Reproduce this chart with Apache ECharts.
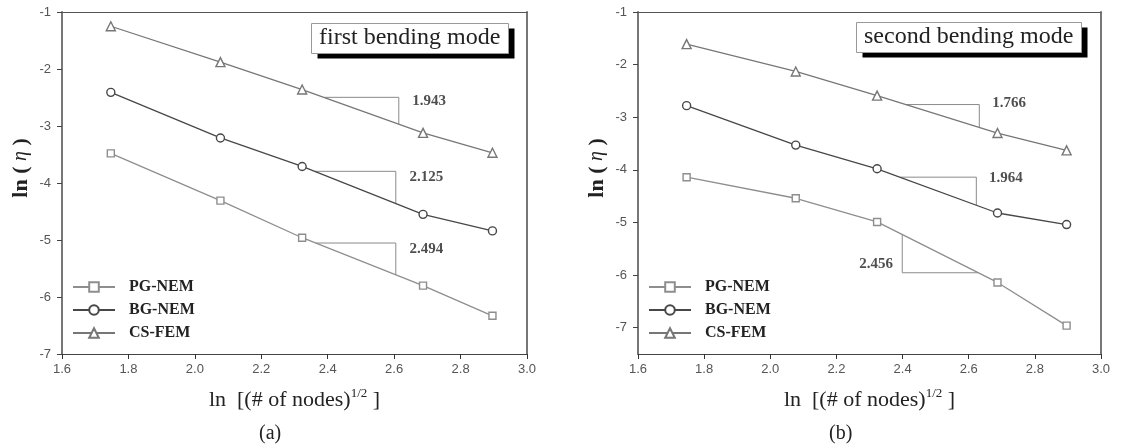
<!DOCTYPE html>
<html>
<head>
<meta charset="utf-8">
<script src="https://cdn.jsdelivr.net/npm/echarts@6/dist/echarts.min.js"></script>
<style>
html,body{margin:0;padding:0;background:#fff;}
#c{width:1121px;height:446px;}
</style>
</head>
<body>
<div id="c"></div>
<script>
// ---- data ----
var seriesNames = ['PG-NEM', 'BG-NEM', 'CS-FEM'];
var xNodes = [1.747, 2.077, 2.323, 2.687, 2.896];
var xTicks = [1.6, 1.8, 2.0, 2.2, 2.4, 2.6, 2.8, 3.0];
var yTicksA = [-7, -6, -5, -4, -3, -2, -1];
var yTicksB = [-7, -6, -5, -4, -3, -2, -1];

// panel (a): first bending mode
var pgA = [-3.48, -4.31, -4.96, -5.80, -6.33];
var bgA = [-2.41, -3.21, -3.71, -4.55, -4.84];
var csA = [-1.25, -1.88, -2.36, -3.12, -3.47];
// panel (b): second bending mode
var pgB = [-4.14, -4.54, -4.99, -6.14, -6.96];
var bgB = [-2.78, -3.53, -3.98, -4.82, -5.04];
var csB = [-1.61, -2.13, -2.59, -3.30, -3.63];

// slope triangles
var slopeTriA = [
  [[2.391, -2.497], [2.614, -2.497], [2.614, -2.967]],
  [[2.361, -3.795], [2.605, -3.795], [2.605, -4.36]],
  [[2.364, -5.053], [2.605, -5.053], [2.605, -5.61]]
];
var slopeTriB = [
  [[2.41, -2.759], [2.632, -2.759], [2.632, -3.19]],
  [[2.393, -4.139], [2.623, -4.139], [2.623, -4.67]],
  [[2.399, -5.228], [2.399, -5.956], [2.629, -5.956]]
];
// slope labels [x, y, text]
var slopeLabelA = [[2.705, -2.568, '1.943'], [2.697, -3.895, '2.125'], [2.697, -5.158, '2.494']];
var slopeLabelB = [[2.722, -2.728, '1.766'], [2.712, -4.152, '1.964'], [2.32, -5.80, '2.456']];

var titleA = 'first bending mode';
var titleB = 'second bending mode';

// ---- chart ----
var chart = echarts.init(document.getElementById('c'), null, {renderer: 'canvas'});
var serif = '"Liberation Serif", "DejaVu Serif", serif';
var sans = '"Liberation Sans", Arial, sans-serif';

var styles = [
  {color: '#8e8e8e', symbol: 'rect', size: 7},
  {color: '#474747', symbol: 'circle', size: 8},
  {color: '#777777', symbol: 'triangle', size: 9}
];

function xAx(gi) {
  return {
    type: 'value', gridIndex: gi, min: 1.6, max: 3.0, interval: 0.2,
    name: '{n|ln  [(# of nodes)}{s|1/2}{n| ]}',
    nameLocation: 'middle', nameGap: 33,
    nameTextStyle: {
      rich: {
        n: {fontFamily: serif, fontSize: 22, color: '#222', lineHeight: 26},
        s: {fontFamily: serif, fontSize: 13, color: '#222', verticalAlign: 'top', lineHeight: 14}
      }
    },
    axisLine: {show: true, onZero: false, lineStyle: {color: '#444', width: 1}},
    axisTick: {show: true, inside: false, length: 5, lineStyle: {color: '#333'}},
    axisLabel: {color: '#555', fontFamily: sans, fontSize: 13, margin: 9,
      formatter: function (v) { return v.toFixed(1); }},
    splitLine: {show: false}
  };
}
function xTop(gi) {
  return {type: 'value', gridIndex: gi, position: 'top', min: 1.6, max: 3.0,
    axisLine: {show: true, onZero: false, lineStyle: {color: '#555', width: 1}},
    axisTick: {show: false}, axisLabel: {show: false}, splitLine: {show: false}};
}
function yAx(gi, min, ticks) {
  return {
    type: 'value', gridIndex: gi, min: min, max: -1,
    axisTick: {show: true, inside: false, length: 5, lineStyle: {color: '#444'}, customValues: ticks},
    axisLabel: {color: '#555', fontFamily: sans, fontSize: 13, margin: 11, customValues: ticks},
    name: '{b|ln ( }{i|η}{b| )}',
    nameLocation: 'middle', nameGap: 30, nameRotate: 90,
    nameTextStyle: {
      padding: [0, 0, 0, 30],
      rich: {
        b: {fontFamily: serif, fontSize: 22, fontWeight: 'bold', color: '#222'},
        i: {fontFamily: serif, fontSize: 20, fontStyle: 'italic', color: '#222'}
      }
    },
    axisLine: {show: true, onZero: false, lineStyle: {color: '#777', width: 2}},
    splitLine: {show: false}
  };
}
function yRight(gi, min) {
  return {type: 'value', gridIndex: gi, position: 'right', min: min, max: -1,
    axisLine: {show: true, onZero: false, lineStyle: {color: '#777', width: 2}},
    axisTick: {show: false}, axisLabel: {show: false}, splitLine: {show: false}};
}

function dataSeries(vals, k, xi, yi) {
  var st = styles[k];
  return {
    type: 'line', name: seriesNames[k], xAxisIndex: xi, yAxisIndex: yi,
    data: xNodes.map(function (x, i) { return [x, vals[i]]; }),
    symbol: st.symbol, symbolSize: st.size, showSymbol: true,
    lineStyle: {color: st.color, width: 1.3},
    itemStyle: {color: '#fff', borderColor: st.color, borderWidth: 1.4},
    emphasis: {disabled: true}, z: 3
  };
}
function triSeries(tri, xi, yi) {
  return {
    type: 'line', name: 'slope', xAxisIndex: xi, yAxisIndex: yi, data: tri,
    symbol: 'none', lineStyle: {color: '#8a8a8a', width: 1}, silent: true, z: 2
  };
}
function labelSeries(lbls, xi, yi) {
  return {
    type: 'scatter', name: 'slope label', xAxisIndex: xi, yAxisIndex: yi,
    data: lbls.map(function (d) { return [d[0], d[1], d[2]]; }),
    symbolSize: 0, silent: true,
    label: {show: true, position: 'inside', fontFamily: serif, fontWeight: 'bold', fontSize: 15, color: '#222',
      formatter: function (p) { return p.value[2]; }}
  };
}

var series = [];
[pgA, bgA, csA].forEach(function (v, k) { series.push(dataSeries(v, k, 0, 0)); });
[pgB, bgB, csB].forEach(function (v, k) { series.push(dataSeries(v, k, 1, 1)); });
slopeTriA.forEach(function (t) { series.push(triSeries(t, 0, 0)); });
slopeTriB.forEach(function (t) { series.push(triSeries(t, 1, 1)); });
series.push(labelSeries(slopeLabelA, 0, 0));
series.push(labelSeries(slopeLabelB, 1, 1));

function legend(left) {
  return {
    data: seriesNames, orient: 'vertical', left: left, top: 279, padding: 0,
    itemWidth: 42, itemHeight: 12, itemGap: 7, selectedMode: false,
    textStyle: {fontFamily: serif, fontWeight: 'bold', fontSize: 16, color: '#222', lineHeight: 16, padding: [0, 0, 0, 9]}
  };
}
function title(text, left, top) {
  return {
    text: text, left: left, top: top, padding: 0,
    textStyle: {fontFamily: serif, fontSize: 24, fontWeight: 'normal', color: '#222', lineHeight: 30}
  };
}
function titleBox(x, y, w, h) {
  return {
    type: 'group', z: 5,
    children: [
      {type: 'rect', shape: {x: x + 6, y: y + 5, width: w, height: h}, style: {fill: '#000'}, z: 5},
      {type: 'rect', shape: {x: x, y: y, width: w, height: h}, style: {fill: '#fff', stroke: '#999', lineWidth: 1}, z: 5}
    ]
  };
}

chart.setOption({
  animation: false,
  backgroundColor: '#fff',
  title: [title(titleA, 319, 23), title(titleB, 864, 22)],
  legend: [legend(72), legend(648)],
  grid: [
    {left: 62, top: 12, width: 465, height: 342},
    {left: 638, top: 12, width: 463, height: 342}
  ],
  xAxis: [xAx(0), xAx(1), xTop(0), xTop(1)],
  yAxis: [yAx(0, -7, yTicksA), yAx(1, -7.5, yTicksB), yRight(0, -7), yRight(1, -7.5)],
  graphic: [
    titleBox(311.5, 23.5, 197, 30),
    titleBox(856.5, 22.5, 225, 30),
    {type: 'text', left: 259, top: 424, style: {text: '(a)', font: '20px ' + serif, fill: '#222'}},
    {type: 'text', left: 829, top: 424, style: {text: '(b)', font: '20px ' + serif, fill: '#222'}}
  ],
  series: series
});
</script>
</body>
</html>
